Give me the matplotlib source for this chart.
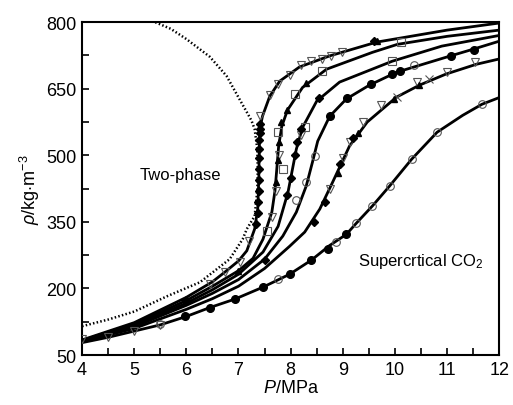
import matplotlib
matplotlib.use("Agg")
import matplotlib.pyplot as plt
from matplotlib.ticker import MultipleLocator, FixedLocator

plt.rcParams['font.family'] = ['Liberation Sans', 'DejaVu Sans']
plt.rcParams['mathtext.fontset'] = 'custom'
plt.rcParams['mathtext.rm'] = 'Liberation Sans'
plt.rcParams['mathtext.it'] = 'Liberation Sans:italic'

# ---- isotherm fit lines (P in MPa, rho in kg/m3) ----
c1_P = [4, 5, 6, 6.5, 6.74, 7.0, 7.16, 7.31, 7.37, 7.39, 7.40, 7.42, 7.46, 7.6, 7.79, 8.17, 8.75, 9.65, 11.0, 12.0]
c1_r = [84, 123, 180, 215, 237, 262, 285, 334, 380, 450, 530, 565, 588, 633, 667, 699, 724, 755, 782, 798]
c2_P = [4, 5, 6, 6.5, 7.0, 7.28, 7.47, 7.64, 7.70, 7.73, 7.77, 7.83, 7.94, 8.23, 8.69, 9.57, 10.05, 11.0, 12.0]
c2_r = [83, 120, 173, 205, 240, 268, 311, 372, 420, 462, 520, 565, 602, 653, 694, 732, 750, 768, 782]
c3_P = [4, 5, 6, 6.5, 7.0, 7.47, 7.76, 7.95, 8.11, 8.23, 8.5, 8.94, 9.95, 10.9, 12.0]
c3_r = [82, 117, 167, 197, 232, 282, 340, 417, 514, 563, 622, 665, 712, 746, 770]
c4_P = [4, 5, 6, 6.5, 7.0, 7.5, 7.85, 8.11, 8.3, 8.42, 8.52, 8.75, 9.07, 9.51, 10.03, 11.04, 11.5, 12.0]
c4_r = [81, 114, 162, 189, 220, 266, 318, 372, 431, 485, 532, 588, 627, 658, 687, 723, 739, 757]
c5_P = [4, 5, 6, 6.5, 7.0, 7.5, 7.98, 8.27, 8.56, 8.8, 9.13, 9.47, 10.03, 10.47, 10.98, 11.56, 12.0]
c5_r = [80, 110, 153, 177, 205, 245, 295, 327, 379, 438, 521, 575, 631, 658, 683, 705, 717]
c6_P = [4, 4.5, 5, 5.5, 6, 6.45, 6.93, 7.47, 7.98, 8.4, 8.75, 9.07, 9.26, 9.57, 9.9, 10.32, 10.81, 11.3, 11.67, 12.0]
c6_r = [78, 90, 104, 118, 137, 157, 176, 203, 232, 264, 297, 322, 347, 386, 431, 491, 552, 590, 615, 630]

# ---- saturation (two-phase boundary) ----
sat_P = [4, 4.5, 5, 5.62, 6.26, 6.83, 7.08, 7.16, 7.31, 7.36, 7.37, 7.36, 7.31, 7.25, 7.18, 7.05, 6.77, 6.45, 6.0, 5.7, 5.4]
sat_r = [115, 130, 148, 182, 214, 266, 311, 334, 363, 420, 468, 515, 559, 578, 593, 620, 679, 722, 762, 785, 800]

# ---- experimental markers ----
dia_P = [7.34, 7.37, 7.38, 7.39, 7.39, 7.40, 7.40, 7.40, 7.40, 7.41, 7.41, 7.42,
         7.93, 8.0, 8.08, 8.13, 8.19, 8.55,
         8.45, 8.65, 8.95, 9.2, 7.5, 6.0, 9.6]
dia_r = [345, 370, 395, 420, 445, 470, 495, 515, 535, 550, 560, 570,
         410, 450, 500, 530, 560, 630,
         350, 395, 480, 540, 265, 175, 758]
tri_P = [7.72, 7.75, 7.77, 7.81, 7.94, 8.30, 9.99, 10.47, 8.9, 9.3, 7.0, 9.65]
tri_r = [440, 490, 530, 575, 602, 664, 627, 658, 460, 550, 240, 757]
vtri_P = [7.41, 7.6, 7.75, 7.98, 8.19, 8.4, 8.6, 8.78, 8.99,
          7.72, 7.78, 7.65, 6.45, 6.74, 7.02, 7.2,
          9.13, 9.38, 9.74, 10.43, 11.0, 11.54, 8.75, 9.0,
          4.0, 4.5, 5.0, 5.5, 8.2]
vtri_r = [588, 635, 660, 680, 703, 712, 716, 723, 732,
          420, 500, 360, 210, 237, 259, 307,
          530, 575, 613, 665, 687, 710, 425, 495,
          86, 90, 104, 118, 545]
sq_P = [7.75, 8.08, 8.61, 10.12, 8.27, 9.95, 7.85, 7.55]
sq_r = [552, 638, 690, 755, 563, 712, 470, 330]
fcirc_P = [8.75, 9.09, 9.55, 9.95, 10.09, 11.08, 11.52,
           9.07, 8.71, 8.4, 7.98, 7.47, 6.93, 6.45, 5.97]
fcirc_r = [588, 628, 660, 683, 690, 723, 738,
           322, 289, 264, 232, 203, 176, 157, 137]
ocirc_P = [10.37, 8.46, 8.3, 8.1,
           11.67, 10.81, 10.32, 9.9, 9.57, 9.26, 8.88, 7.75, 5.5]
ocirc_r = [703, 498, 440, 400,
           615, 552, 491, 431, 386, 347, 305, 221, 120]
x_P = [10.66, 10.05]
x_r = [671, 631]

y_major = [50, 200, 350, 500, 650, 800]
y_minor = [125, 275, 425, 575, 725]

fig = plt.figure(figsize=(5.13, 4.06), dpi=100)
ax = fig.add_axes([0.160, 0.123, 0.813, 0.820])

for P, r in [(c1_P, c1_r), (c2_P, c2_r), (c3_P, c3_r), (c4_P, c4_r), (c5_P, c5_r), (c6_P, c6_r)]:
    ax.plot(P, r, color='black', lw=2.0, zorder=3, solid_capstyle='round')

ax.plot(sat_P, sat_r, color='black', lw=1.8, linestyle=(0, (0.6, 0.9)), zorder=2)

edge = '#555555'
ax.plot(vtri_P, vtri_r, 'v', ms=5.5, mfc='none', mec=edge, mew=0.8, zorder=4, ls='none')
ax.plot(sq_P, sq_r, 's', ms=5.5, mfc='none', mec=edge, mew=0.8, zorder=4, ls='none')
ax.plot(ocirc_P, ocirc_r, 'o', ms=5.5, mfc='none', mec=edge, mew=0.8, zorder=4, ls='none')
ax.plot(x_P, x_r, 'x', ms=5.5, mec=edge, mew=0.8, zorder=4, ls='none')
ax.plot(dia_P, dia_r, 'D', ms=3.8, color='black', zorder=5, ls='none')
ax.plot(tri_P, tri_r, '^', ms=5, color='black', zorder=5, ls='none')
ax.plot(fcirc_P, fcirc_r, 'o', ms=5.5, color='black', zorder=5, ls='none')

ax.set_xlim(4, 12)
ax.set_ylim(50, 800)
ax.xaxis.set_major_locator(MultipleLocator(1))
ax.xaxis.set_minor_locator(MultipleLocator(0.5))
ax.yaxis.set_major_locator(FixedLocator(y_major))
ax.yaxis.set_minor_locator(FixedLocator(y_minor))
ax.tick_params(which='both', direction='in', length=5, width=1.2, top=False, right=False,
               labelsize=13, pad=4)
for s in ax.spines.values():
    s.set_linewidth(1.5)

ax.set_xlabel(r'$P$/MPa', fontsize=13, labelpad=1)
ax.set_ylabel(r'$\rho$/kg$\cdot$m$^{-3}$', fontsize=13, labelpad=3)

ax.text(5.88, 457, 'Two-phase', fontsize=12, ha='center', va='center')
ax.text(10.49, 262, r'Supercrtical CO$_2$', fontsize=12, ha='center', va='center')

fig.savefig('out.png', dpi=100)
